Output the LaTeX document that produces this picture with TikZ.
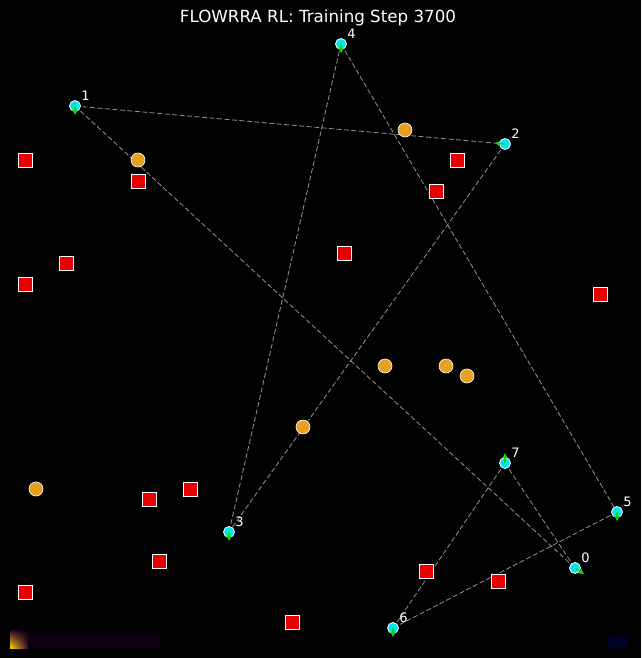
\documentclass[tikz,border=0pt]{standalone}
\usepackage{fontspec}
\setmainfont{DejaVu Sans}
\usetikzlibrary{arrows.meta,shadings}
\definecolor{agentcyan}{RGB}{0,230,240}
\definecolor{headgreen}{RGB}{20,210,20}
\definecolor{obsorange}{RGB}{232,160,32}
\definecolor{boxred}{RGB}{230,0,0}
\definecolor{bgdark}{RGB}{2,2,2}
\tikzset{
  agent/.style={circle,fill=agentcyan,draw=white,line width=0.8pt,inner sep=0pt,minimum size=11pt},
  heading/.style={-{Triangle[length=5pt,width=5pt]},headgreen,line width=1.2pt},
  agentnum/.style={text=white,font=\fontsize{13}{13}\selectfont,inner sep=0pt},
  blob/.style={circle,fill=obsorange,draw=white,line width=0.6pt,inner sep=0pt,minimum size=14pt},
  wall/.style={rectangle,fill=boxred,draw=white,line width=0.8pt,inner sep=0pt,minimum size=14pt},
  link/.style={dashed,dash pattern=on 5pt off 2.5pt,color=gray!85,line width=0.8pt}
}

\begin{document}
\begin{tikzpicture}[x=1pt,y=-1pt]
\fill[bgdark] (0,0) rectangle (641,658);
\useasboundingbox (0,0) rectangle (641,658);
% density strip at the bottom
\shade[upper left=violet!40!black,upper right=black,lower left=yellow!70!orange,lower right=violet!50!black] (10,630) rectangle (28,648);
\fill[violet!12!black] (28,636) rectangle (160,648);
\fill[blue!14!black] (608,636) rectangle (628,648);

\node[text=white,font=\fontsize{16.7}{16.7}\selectfont] (title) at (318,18) {FLOWRRA RL: Training Step 3700};

% agents
\coordinate (P0) at (575,568);
\coordinate (P1) at (75,106);
\coordinate (P2) at (505,144);
\coordinate (P3) at (229,532);
\coordinate (P4) at (341,44);
\coordinate (P5) at (617,512);
\coordinate (P6) at (393,628);
\coordinate (P7) at (505,463);

% links
\draw[link] (P1) -- (P2);
\draw[link] (P1) -- (P0);
\draw[link] (P4) -- (P3);
\draw[link] (P4) -- (P5);
\draw[link] (P2) -- (P3);
\draw[link] (P7) -- (P6);
\draw[link] (P7) -- (P0);
\draw[link] (P6) -- (P5);

% obstacles
\foreach \x/\y [count=\i] in {405/130,138/160,385/366,446/366,467/376,303/427,36/489}
  \node[blob] (ob\i) at (\x,\y) {};
\foreach \x/\y [count=\i] in {25/160,138/181,457/160,436/191,344/253,66/263,25/284,600/294,
    149/499,190/489,159/561,25/592,426/571,498/581,292/622}
  \node[wall] (wl\i) at (\x,\y) {};

\foreach \n in {0,...,7}
  \node[agent] (a\n) at (P\n) {};
% headings
\draw[heading] (a0.center) -- ++(9,6);
\draw[heading] (a1.center) -- ++(0,9);
\draw[heading] (a2.center) -- ++(-10,-1);
\draw[heading] (a3.center) -- ++(0,9);
\draw[heading] (a4.center) -- ++(0,9);
\draw[heading] (a5.center) -- ++(0,9);
\draw[heading] (a6.center) -- ++(0,9);
\draw[heading] (a7.center) -- ++(0,-10);

\foreach \n in {0,...,7}
  \node[agentnum,anchor=south west] (t\n) at ([xshift=2pt,yshift=1pt]a\n.north east) {\n};
\end{tikzpicture}
\end{document}
